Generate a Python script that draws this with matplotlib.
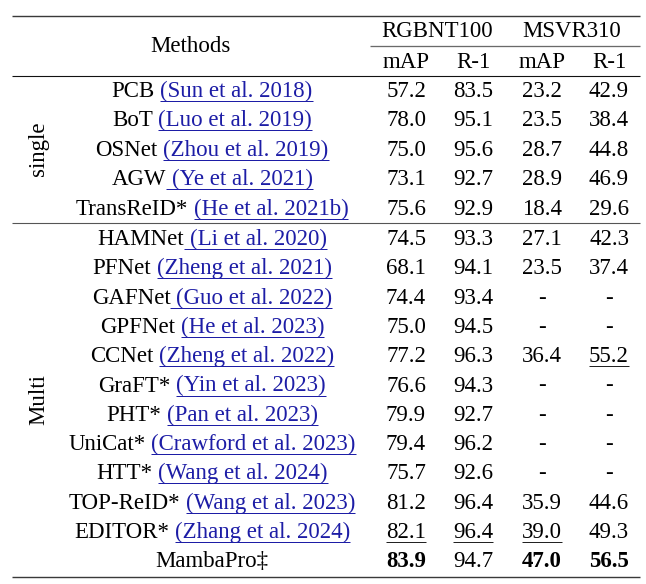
import matplotlib
matplotlib.use("Agg")
import matplotlib.pyplot as plt

# ---------------- data ----------------
groups = ["single", "Multi"]
group_sizes = [5, 12]
methods = ["PCB", "BoT", "OSNet", "AGW", "TransReID*",
           "HAMNet", "PFNet", "GAFNet", "GPFNet", "CCNet", "GraFT*", "PHT*",
           "UniCat*", "HTT*", "TOP-ReID*", "EDITOR*", "MambaPro\u2021"]
citations = ["(Sun et al. 2018)", "(Luo et al. 2019)", "(Zhou et al. 2019)",
             "(Ye et al. 2021)", "(He et al. 2021b)",
             "(Li et al. 2020)", "(Zheng et al. 2021)", "(Guo et al. 2022)",
             "(He et al. 2023)", "(Zheng et al. 2022)", "(Yin et al. 2023)",
             "(Pan et al. 2023)", "(Crawford et al. 2023)", "(Wang et al. 2024)",
             "(Wang et al. 2023)", "(Zhang et al. 2024)", ""]
space_linked = ["AGW", "HAMNet", "GAFNet"]
datasets = ["RGBNT100", "MSVR310"]
metrics = ["mAP", "R-1", "mAP", "R-1"]
rgb_map = ["57.2", "78.0", "75.0", "73.1", "75.6", "74.5", "68.1", "74.4", "75.0",
           "77.2", "76.6", "79.9", "79.4", "75.7", "81.2", "82.1", "83.9"]
rgb_r1 = ["83.5", "95.1", "95.6", "92.7", "92.9", "93.3", "94.1", "93.4", "94.5",
          "96.3", "94.3", "92.7", "96.2", "92.6", "96.4", "96.4", "94.7"]
msvr_map = ["23.2", "23.5", "28.7", "28.9", "18.4", "27.1", "23.5", "-", "-",
            "36.4", "-", "-", "-", "-", "35.9", "39.0", "47.0"]
msvr_r1 = ["42.9", "38.4", "44.8", "46.9", "29.6", "42.3", "37.4", "-", "-",
           "55.2", "-", "-", "-", "-", "44.6", "49.3", "56.5"]
best = [(16, 0), (16, 2), (16, 3)]          # (row, column) shown in bold
second = [(15, 0), (15, 1), (15, 2), (9, 3)]  # (row, column) underlined

columns = [rgb_map, rgb_r1, msvr_map, msvr_r1]

# ---------------- figure ----------------
W, H = 646, 584
fig = plt.figure(figsize=(W / 100, H / 100), dpi=100)
ax = fig.add_axes([0, 0, 1, 1])
ax.set_xlim(0, W)
ax.set_ylim(H, 0)
ax.axis("off")

FONT = "Liberation Serif"
FS = 16.5
BLUE = "#1d1da6"
PX = 0.72  # 1 pixel in points

fig.canvas.draw()
renderer = fig.canvas.get_renderer()


def width(s, weight="normal"):
    t = ax.text(0, 0, s, fontsize=FS, family=FONT, weight=weight)
    w = t.get_window_extent(renderer).width
    t.remove()
    return w


# rules
def hrule(y, x0, x1, color, lw):
    ax.plot([x0, x1], [y, y], color=color, lw=lw * PX, solid_capstyle="butt")


hrule(15.5, 12, 640, "#3a3a3a", 1.4)
hrule(46, 370, 640, "#6a6a6a", 1.3)
hrule(76, 12, 640, "#111111", 1.1)
hrule(223, 12, 640, "#555555", 1.1)
hrule(576.5, 12, 640, "#3a3a3a", 1.4)

# headers
col_x = [406, 473, 542, 609]
ax.text(190, 52, "Methods", fontsize=FS, family=FONT, ha="center", va="baseline")
ax.text(437, 37, datasets[0], fontsize=FS, family=FONT, ha="center", va="baseline")
ax.text(572, 37, datasets[1], fontsize=FS, family=FONT, ha="center", va="baseline")
for x, m in zip(col_x, metrics):
    ax.text(x, 68, m, fontsize=FS, family=FONT, ha="center", va="baseline")

# row baselines
baselines = []
for k in range(group_sizes[0]):
    baselines.append(97 + k * 29.4)
for k in range(group_sizes[1]):
    baselines.append(245 + k * 29.3)

# group labels
ax.text(39, (baselines[0] + baselines[4]) / 2 - 7, groups[0], fontsize=FS,
        family=FONT, rotation=90, ha="center", va="center")
ax.text(39, (baselines[5] + baselines[16]) / 2 - 7, groups[1], fontsize=FS,
        family=FONT, rotation=90, ha="center", va="center")

space_w = width("a a") - width("aa")
cx = 212
for i, (m, c) in enumerate(zip(methods, citations)):
    yb = baselines[i]
    wm = width(m)
    if c:
        wc = width(c)
        total = wm + space_w + wc
        x0 = cx - total / 2
        ax.text(x0, yb, m, fontsize=FS, family=FONT, ha="left", va="baseline")
        xc = x0 + wm + space_w
        ax.text(xc, yb, c, fontsize=FS, family=FONT, ha="left", va="baseline",
                color=BLUE)
        ux0 = x0 + wm if m in space_linked else xc
        hrule(yb + 4, ux0, xc + wc, BLUE, 1.0)
    else:
        ax.text(cx, yb, m, fontsize=FS, family=FONT, ha="center", va="baseline")

    for j, col in enumerate(columns):
        v = col[i]
        wt = "bold" if (i, j) in best else "normal"
        ax.text(col_x[j], yb, v, fontsize=FS, family=FONT, ha="center",
                va="baseline", weight=wt)
        if (i, j) in second:
            wv = width(v, wt)
            hrule(yb + 4, col_x[j] - wv / 2, col_x[j] + wv / 2, "#222222", 1.0)

fig.savefig("out.png", dpi=100)
